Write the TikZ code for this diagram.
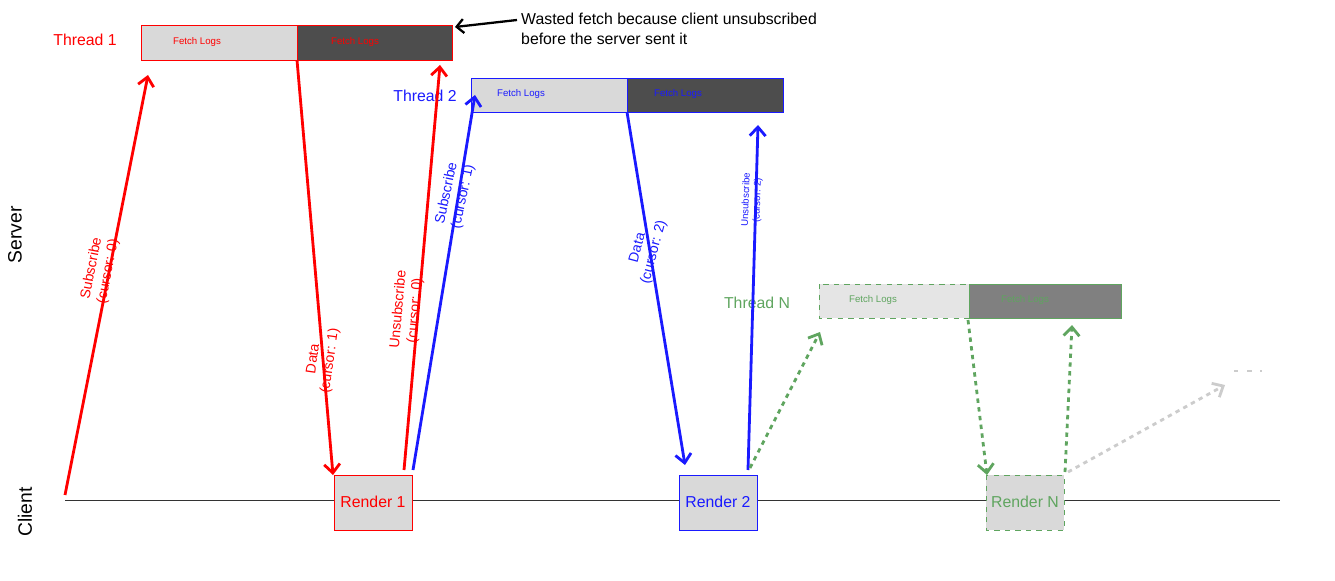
\documentclass[tikz,border=0pt]{standalone}
\usepackage{fontspec}
\setmainfont{Liberation Sans}
\usetikzlibrary{arrows.meta}
\definecolor{tred}{HTML}{FF0000}
\definecolor{tblue}{HTML}{1A1AFF}
\definecolor{tgreen}{HTML}{5FA55F}
\definecolor{lightbox}{HTML}{D9D9D9}
\definecolor{darkbox}{HTML}{4D4D4D}

\begin{document}
\begin{tikzpicture}[x=0.02cm, y=-0.02cm,
    msg/.style={line width=1.6pt, -{Straight Barb[length=5pt,width=9pt]}},
    dots/.style={msg, dash pattern=on 2.5pt off 2.5pt},
    lbl/.style={font=\fontsize{8}{9.5}\selectfont, align=center, inner sep=1pt},
    small/.style={font=\fontsize{5.5}{6.5}\selectfont},
    thr/.style={font=\fontsize{9}{10}\selectfont}]

    \useasboundingbox (0,0) rectangle (1335,581);

    % axis and lane names
    \draw[black!80] (65,500) -- (1280,500);
    \node[rotate=90, font=\fontsize{11}{12}\selectfont] (server) at (15,235) {Server};
    \node[rotate=90, font=\fontsize{11}{12}\selectfont] (client) at (25,512) {Client};

    % thread 1
    \node[thr, tred] (t1) at (85,40) {Thread 1};
    \filldraw[draw=tred, fill=lightbox] (141,25) rectangle (297,60);
    \filldraw[draw=tred, fill=darkbox] (297,25) rectangle (452,60);
    \node[small, tred] at (197,42) {Fetch Logs};
    \node[small, tred] at (355,42) {Fetch Logs};

    % thread 2
    \node[thr, tblue] (t2) at (425,96) {Thread 2};
    \filldraw[draw=tblue, fill=lightbox] (471,78) rectangle (627,112);
    \filldraw[draw=tblue, fill=darkbox] (627,78) rectangle (783,112);
    \node[small, tblue] at (521,94) {Fetch Logs};
    \node[small, tblue] at (678,94) {Fetch Logs};

    % thread N
    \node[thr, tgreen] (tn) at (757,303) {Thread N};
    \filldraw[draw=tgreen, fill=black!10, dashed] (819,284) rectangle (969,318);
    \filldraw[draw=tgreen, fill=black!50] (969,284) rectangle (1121,318);
    \node[small, tgreen] at (873,300) {Fetch Logs};
    \node[small, tgreen] at (1025,300) {Fetch Logs};

    % renders
    \filldraw[draw=tred, fill=lightbox] (334,475) rectangle (412,530);
    \node[thr, tred] (r1) at (373,502) {Render 1};
    \filldraw[draw=tblue, fill=lightbox] (679,475) rectangle (757,530);
    \node[thr, tblue] (r2) at (718,502) {Render 2};
    \filldraw[draw=tgreen, fill=lightbox, dashed] (986,475) rectangle (1064,530);
    \node[thr, tgreen] (rn) at (1025,502) {Render N};

    % annotation
    \node[anchor=west, align=left, font=\fontsize{9}{11}\selectfont] (note) at (515,29)
        {Wasted fetch because client unsubscribed\\before the server sent it};
    \draw[line width=1.3pt, -{Straight Barb[length=4pt,width=8pt]}] (517,20) -- (455,27);

    % red messages
    \draw[msg, tred] (65,495) -- (148,75);
    \node[lbl, tred, rotate=79] at (100,270) {Subscribe\\(cursor: 0)};
    \draw[msg, tred] (297,60) -- (333,475);
    \node[lbl, tred, rotate=82] at (322,360) {Data\\(cursor: 1)};
    \draw[msg, tred] (404,470) -- (440,65);
    \node[lbl, tred, rotate=85] at (407,310) {Unsubscribe\\(cursor: 0)};

    % blue messages
    \draw[msg, tblue] (413,470) -- (475,95);
    \node[lbl, tblue, rotate=78] at (455,195) {Subscribe\\(cursor: 1)};
    \draw[msg, tblue] (627,112) -- (685,465);
    \node[lbl, tblue, rotate=75] at (646,250) {Data\\(cursor: 2)};
    \draw[msg, tblue] (748,470) -- (758,125);
    \node[lbl, small, tblue, rotate=88] at (752,200) {Unsubscribe\\(cursor: 2)};

    % green messages
    \draw[dots, tgreen] (750,468) -- (820,332);
    \draw[dots, tgreen] (968,320) -- (987,475);
    \draw[dots, tgreen] (1065,472) -- (1072,325);

    % further
    \draw[dots, black!20] (1068,472) -- (1225,385);
    \draw[black!20, line width=1.6pt, dash pattern=on 2.5pt off 5pt] (1234,371) -- (1262,371);
\end{tikzpicture}
\end{document}
